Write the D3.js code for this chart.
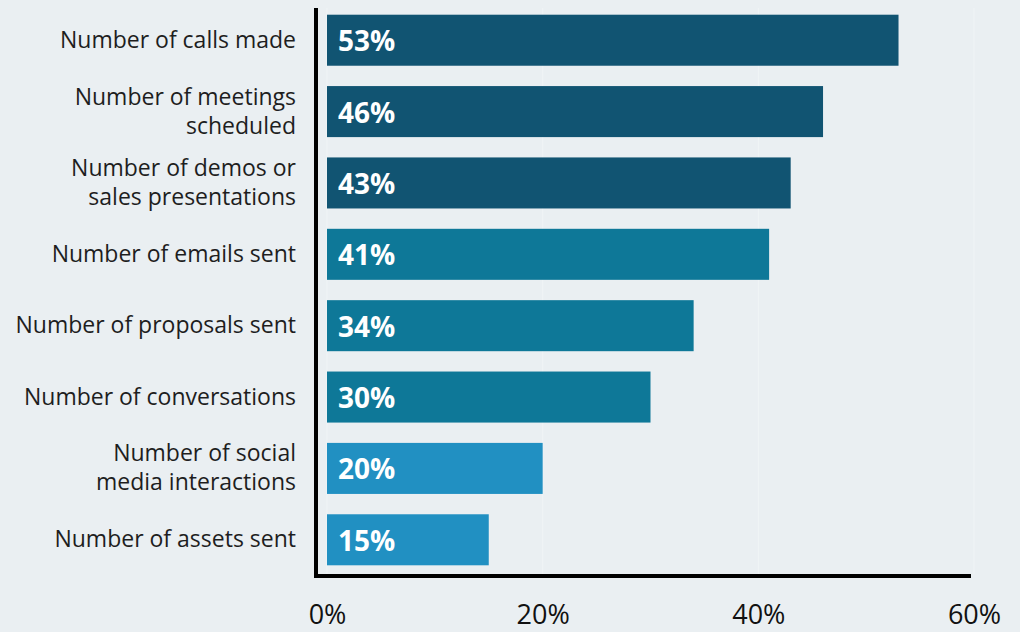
<!DOCTYPE html>
<html>
<head>
<meta charset="utf-8">
<script src="https://cdn.jsdelivr.net/npm/d3@7"></script>
<style>
  html, body { margin: 0; padding: 0; background: #eaeff2; }
  svg { display: block; }
</style>
</head>
<body>
<svg id="chart" width="1020" height="632"></svg>
<script>
// Sales activity metrics tracked (share of respondents)
const categories = [
  ["Number of calls made"],
  ["Number of meetings", "scheduled"],
  ["Number of demos or", "sales presentations"],
  ["Number of emails sent"],
  ["Number of proposals sent"],
  ["Number of conversations"],
  ["Number of social", "media interactions"],
  ["Number of assets sent"]
];
const values = [53, 46, 43, 41, 34, 30, 20, 15];
const groups = [0, 0, 0, 1, 1, 1, 2, 2];
const groupColors = ["#115472", "#0e7898", "#2190c2"];
const xTicks = [0, 20, 40, 60];

const svg = d3.select("#chart");
const W = 1020, H = 632;
svg.append("rect").attr("width", W).attr("height", H).attr("fill", "#eaeff2");

const x = d3.scaleLinear().domain([0, 60]).range([327, 974]);
const y = d3.scaleBand()
  .domain(d3.range(categories.length))
  .range([4, 576])
  .paddingInner(0.285)
  .paddingOuter(0.15);

const font = "'Open Sans', sans-serif";

// faint vertical guides
svg.append("g").selectAll("line").data(xTicks).join("line")
  .attr("x1", d => x(d)).attr("x2", d => x(d))
  .attr("y1", 8).attr("y2", 574)
  .attr("stroke", "#f0f4f6").attr("stroke-width", 1);

// bars
svg.append("g").selectAll("rect").data(values).join("rect")
  .attr("x", x(0))
  .attr("y", (d, i) => y(i))
  .attr("width", d => x(d) - x(0))
  .attr("height", y.bandwidth())
  .attr("fill", (d, i) => groupColors[groups[i]]);

// value labels
svg.append("g").selectAll("text").data(values).join("text")
  .attr("x", x(0) + 11)
  .attr("y", (d, i) => y(i) + y.bandwidth() / 2 + 11)
  .attr("fill", "#ffffff")
  .attr("font-family", font)
  .attr("font-weight", 700)
  .attr("font-size", 28)
  .text(d => d + "%");

// category labels (right aligned, possibly two lines)
const catG = svg.append("g");
categories.forEach((lines, i) => {
  const cy = y(i) + y.bandwidth() / 2;
  const lh = 29;
  const t = catG.append("text")
    .attr("text-anchor", "end")
    .attr("font-family", font)
    .attr("font-size", 23)
    .attr("fill", "#1e1e1e");
  lines.forEach((ln, j) => {
    t.append("tspan")
      .attr("x", 296)
      .attr("y", cy + (j - (lines.length - 1) / 2) * lh + 7.5)
      .text(ln);
  });
});

// axes lines
svg.append("line")
  .attr("x1", 316).attr("x2", 316).attr("y1", 8).attr("y2", 578)
  .attr("stroke", "#000").attr("stroke-width", 4);
svg.append("line")
  .attr("x1", 314).attr("x2", 971).attr("y1", 576).attr("y2", 576)
  .attr("stroke", "#000").attr("stroke-width", 4);

// x tick labels
const xAxis = d3.axisBottom(x).tickValues(xTicks).tickFormat(d => d + "%").tickSize(0).tickPadding(0);
const ax = svg.append("g").attr("transform", "translate(0,624)").call(xAxis);
ax.select(".domain").remove();
ax.selectAll("text")
  .attr("font-family", font)
  .attr("font-size", 27)
  .attr("fill", "#111")
  .attr("y", 0)
  .attr("dy", 0);
</script>
</body>
</html>
